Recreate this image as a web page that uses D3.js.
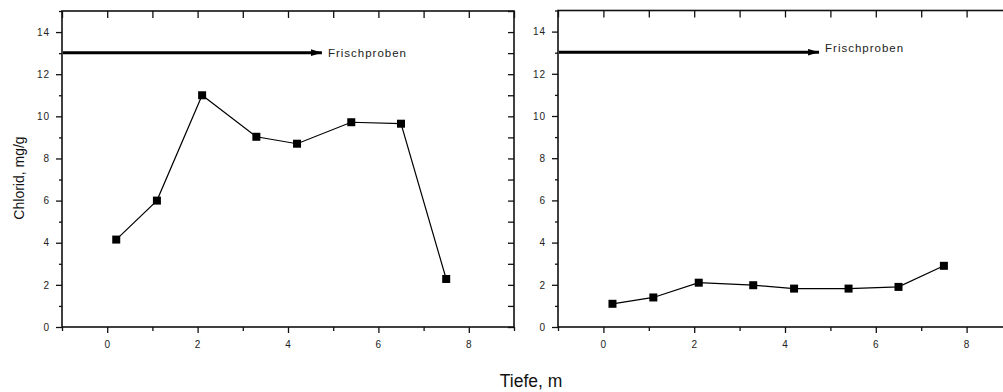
<!DOCTYPE html>
<html>
<head>
<meta charset="utf-8">
<script src="https://cdn.jsdelivr.net/npm/d3@7"></script>
<style>
  html, body { margin: 0; padding: 0; background: #fff; }
  svg { display: block; font-family: Arial, "Liberation Sans", sans-serif; }
</style>
</head>
<body>
<svg id="chart" width="1003" height="392"></svg>
<script>
// ---- data ----
const depthLeft = [0.2, 1.1, 2.1, 3.3, 4.2, 5.4, 6.5, 7.5];
const chloridLeft = [4.15, 6.0, 11.0, 9.03, 8.7, 9.72, 9.65, 2.28];
const depthRight = [0.2, 1.1, 2.1, 3.3, 4.2, 5.4, 6.5, 7.5];
const chloridRight = [1.1, 1.4, 2.1, 1.98, 1.82, 1.82, 1.9, 2.9];
const xMajorTicks = [0, 2, 4, 6, 8];
const xMinorTicks = [-1, 1, 3, 5, 7, 9];
const yMajorTicks = [0, 2, 4, 6, 8, 10, 12, 14];
const yMinorTicks = [1, 3, 5, 7, 9, 11, 13, 15];
const arrowLabel = "Frischproben";
const arrowLevel = 13;
const arrowStart = -1;
const arrowEnd = 4.75;
const yTitle = "Chlorid, mg/g";
const xTitle = "Tiefe, m";

const svg = d3.select("#chart");
const defs = svg.append("defs");
defs.append("marker")
  .attr("id", "ah").attr("viewBox", "0 0 10 6").attr("refX", 10).attr("refY", 3)
  .attr("markerUnits", "userSpaceOnUse").attr("markerWidth", 11).attr("markerHeight", 7)
  .attr("orient", "auto")
  .append("path").attr("d", "M0,0 L10,3 L0,6 Z").attr("fill", "#000");

const ink = "#111";

function panel(x0, x1, y0, y1, xs, ys, textDy) {
  const x = d3.scaleLinear().domain([-1, 9]).range([x0, x1]);
  const y = d3.scaleLinear().domain([0, 15]).range([y1, y0]);
  const g = svg.append("g");

  function styleAxis(sel) {
    sel.select(".domain").remove();
    sel.selectAll(".tick line").attr("stroke", ink).attr("stroke-width", 1.3);
    sel.selectAll(".tick text").attr("fill", "#222").attr("font-size", 10)
      .attr("letter-spacing", "1px")
      .attr("font-family", "Arial, 'Liberation Sans', sans-serif");
  }

  // bottom axis: major with labels, minor without
  g.append("g").attr("transform", `translate(0,${y1})`)
    .call(d3.axisBottom(x).tickValues(xMajorTicks).tickSize(6).tickPadding(8).tickFormat(d3.format("d")))
    .call(styleAxis);
  g.append("g").attr("transform", `translate(0,${y1})`)
    .call(d3.axisBottom(x).tickValues(xMinorTicks).tickSize(4).tickFormat(""))
    .call(styleAxis);
  // top axis: inward ticks at each integer
  g.append("g").attr("transform", `translate(0,${y0})`)
    .call(d3.axisBottom(x).tickValues(xMajorTicks.concat(xMinorTicks)).tickSize(7).tickFormat(""))
    .call(styleAxis);
  // left axis
  g.append("g").attr("transform", `translate(${x0},0)`)
    .call(d3.axisLeft(y).tickValues(yMajorTicks).tickSize(6).tickPadding(6).tickFormat(d3.format("d")))
    .call(styleAxis);
  g.append("g").attr("transform", `translate(${x0},0)`)
    .call(d3.axisLeft(y).tickValues(yMinorTicks).tickSize(3).tickFormat(""))
    .call(styleAxis);
  // right axis: inward ticks
  g.append("g").attr("transform", `translate(${x1},0)`)
    .call(d3.axisLeft(y).tickValues(yMajorTicks.concat(yMinorTicks)).tickSize(6).tickFormat(""))
    .call(styleAxis);

  // frame
  g.append("rect").attr("x", x0).attr("y", y0).attr("width", x1 - x0).attr("height", y1 - y0)
    .attr("fill", "none").attr("stroke", ink).attr("stroke-width", 1.6);

  // arrow
  g.append("line")
    .attr("x1", x(arrowStart) + 1).attr("x2", x(arrowEnd))
    .attr("y1", y(arrowLevel) - 0.5).attr("y2", y(arrowLevel) - 0.5)
    .attr("stroke", "#000").attr("stroke-width", 3)
    .attr("marker-end", "url(#ah)");
  g.append("text")
    .attr("x", x(arrowEnd) + 6).attr("y", y(arrowLevel) - 0.5 + textDy)
    .attr("font-size", 11.5).attr("letter-spacing", "1px").attr("fill", "#222")
    .text(arrowLabel);

  // data line
  const pts = xs.map((d, i) => [d, ys[i]]);
  g.append("path").datum(pts)
    .attr("fill", "none").attr("stroke", "#000").attr("stroke-width", 1.2)
    .attr("d", d3.line().x(d => x(d[0])).y(d => y(d[1])));
  g.selectAll("rect.pt").data(pts).enter().append("rect").attr("class", "pt")
    .attr("x", d => x(d[0]) - 4).attr("y", d => y(d[1]) - 4)
    .attr("width", 8).attr("height", 8).attr("fill", "#000");
}

panel(62, 514, 11, 327, depthLeft, chloridLeft, 4);
panel(558, 1012, 10.5, 327, depthRight, chloridRight, 0);

// axis titles
svg.append("text")
  .attr("transform", "translate(24,178) rotate(-90)")
  .attr("text-anchor", "middle").attr("font-size", 14).attr("fill", "#111")
  .text(yTitle);
svg.append("text")
  .attr("x", 531).attr("y", 387)
  .attr("text-anchor", "middle").attr("font-size", 17.5).attr("fill", "#111")
  .text(xTitle);
</script>
</body>
</html>
